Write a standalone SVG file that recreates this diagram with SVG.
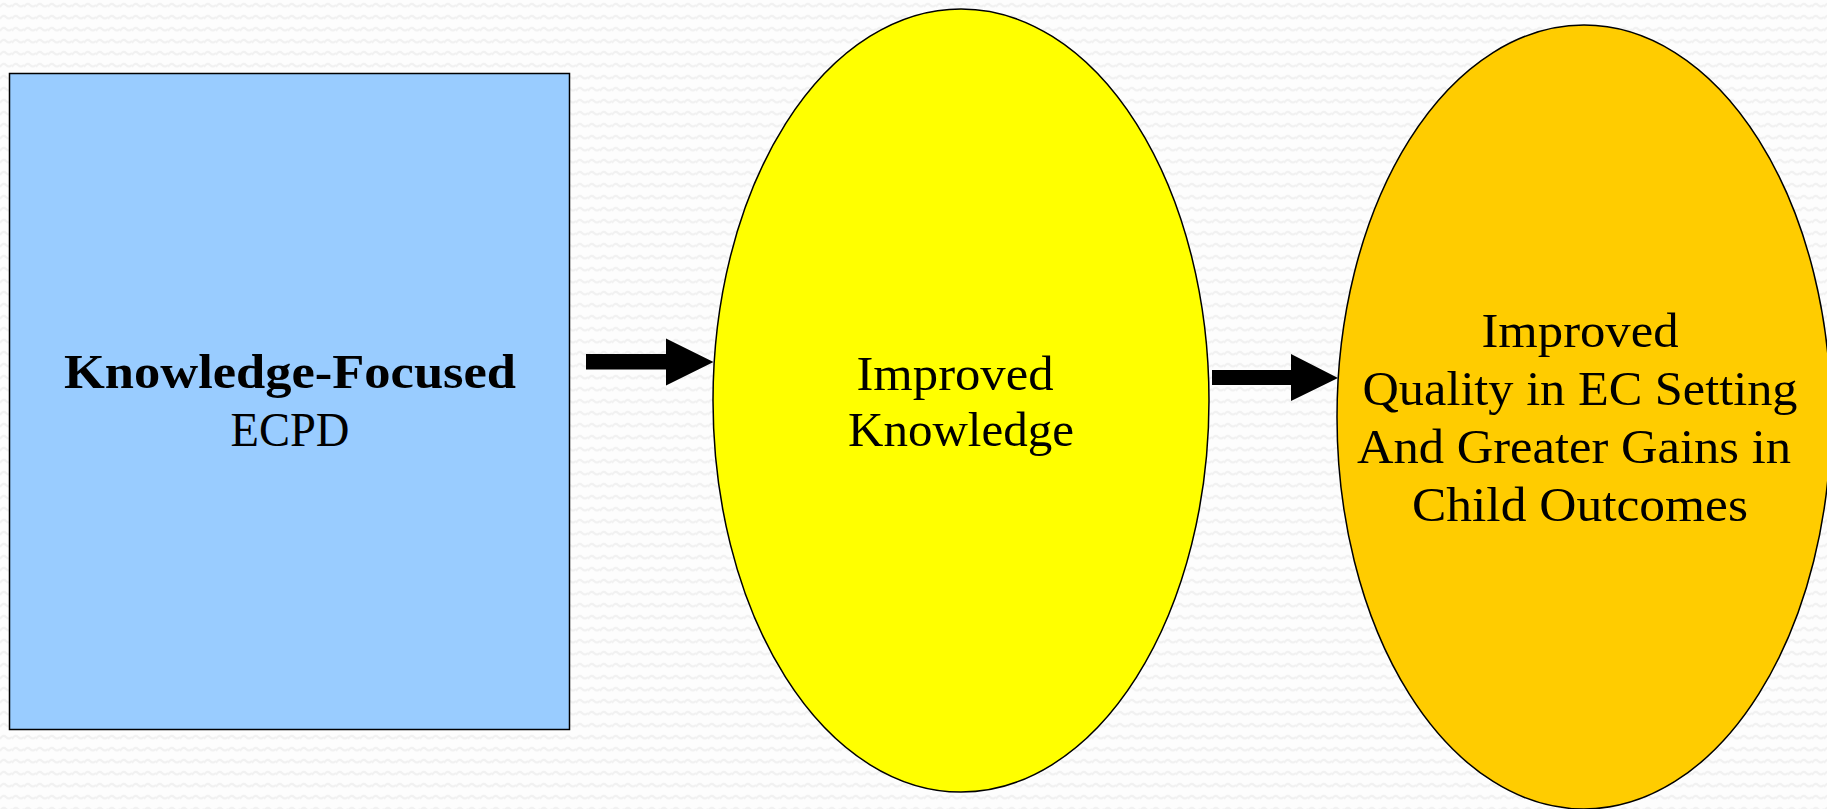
<svg xmlns="http://www.w3.org/2000/svg" width="1827" height="809" viewBox="0 0 1827 809">
<style>
.lbl{font-family:"Liberation Serif","Times New Roman",serif;font-size:48px;fill:#000;text-anchor:middle}
.b{font-weight:bold}
.shape{stroke:#000;stroke-width:1.5}
.arrow{fill:#000}
</style>
<defs>
<pattern id="bg" width="12" height="12" patternUnits="userSpaceOnUse">
<rect width="12" height="12" fill="#fdfdfd"/>
<path d="M0 7 Q3 2 6 5 T12 5" fill="none" stroke="#f1f1f1" stroke-width="2"/>
</pattern>
</defs>
<rect width="1827" height="809" fill="url(#bg)"/>
<g id="node-ecpd">
<rect class="shape" x="9.5" y="73.5" width="560" height="656" fill="#99ccff" stroke-width="2.5"/>
<text class="lbl b" x="290" y="388" textLength="452" lengthAdjust="spacingAndGlyphs">Knowledge-Focused</text>
<text class="lbl" x="290" y="446" textLength="119" lengthAdjust="spacingAndGlyphs">ECPD</text>
</g>
<g id="node-knowledge">
<ellipse class="shape" cx="961" cy="400.5" rx="248" ry="391.5" fill="#ffff00"/>
<text class="lbl" x="955" y="390" textLength="197" lengthAdjust="spacingAndGlyphs">Improved</text>
<text class="lbl" x="961" y="446" textLength="226" lengthAdjust="spacingAndGlyphs">Knowledge</text>
</g>
<g id="node-outcomes">
<ellipse class="shape" cx="1584" cy="417" rx="247" ry="392" fill="#ffcc00"/>
<text class="lbl" x="1580" y="347" textLength="197" lengthAdjust="spacingAndGlyphs">Improved</text>
<text class="lbl" x="1580" y="405" textLength="435" lengthAdjust="spacingAndGlyphs">Quality in EC Setting</text>
<text class="lbl" x="1574" y="463" textLength="434" lengthAdjust="spacingAndGlyphs">And Greater Gains in</text>
<text class="lbl" x="1580" y="521" textLength="336" lengthAdjust="spacingAndGlyphs">Child Outcomes</text>
</g>
<g id="connectors">
<polygon class="arrow" points="586,354 666,354 666,338.5 713.5,362 666,385.5 666,369.5 586,369.5"/>
<polygon class="arrow" points="1212,370 1291,370 1291,354 1338,378 1291,401 1291,385 1212,385"/>
</g>
</svg>
